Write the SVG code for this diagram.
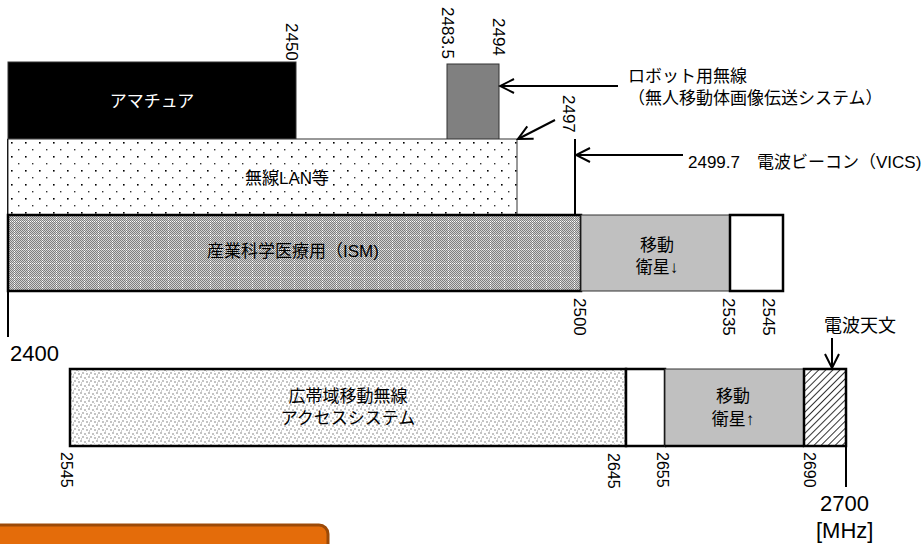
<svg xmlns="http://www.w3.org/2000/svg" width="921" height="544" viewBox="0 0 921 544">
<style>
.jp{font-family:"Liberation Sans","Noto Sans CJK JP",sans-serif;font-size:17px;fill:#000}
.c{text-anchor:middle}
.num{font-family:"Liberation Sans","Noto Sans CJK JP",sans-serif;font-size:17px;fill:#000}
.numb{font-family:"Liberation Sans","Noto Sans CJK JP",sans-serif;font-size:16px;fill:#000}
.big{font-family:"Liberation Sans","Noto Sans CJK JP",sans-serif;font-size:22px;fill:#000}
.thin{stroke:#333;stroke-width:1}
.thick{stroke:#000;stroke-width:2.5}
.conn{stroke:#000;stroke-width:2;fill:none}
</style>
<defs>
<marker id="arr" markerUnits="userSpaceOnUse" markerWidth="18" markerHeight="18" refX="16" refY="8" orient="auto">
<path d="M2,1 L16,8 L2,15" fill="none" stroke="#000" stroke-width="2"/>
</marker>
<pattern id="pDots" width="14" height="14" patternUnits="userSpaceOnUse" x="8" y="139">
<rect width="14" height="14" fill="#fff"/>
<rect x="3" y="3" width="1.6" height="1.6" fill="#000"/>
<rect x="10" y="10" width="1.4" height="1.4" fill="#333"/>
</pattern>
<pattern id="pChk" width="2" height="2" patternUnits="userSpaceOnUse">
<rect width="2" height="2" fill="#d2d2d2"/>
<rect width="1" height="1" fill="#7e7e7e"/>
<rect x="1" y="1" width="1" height="1" fill="#7e7e7e"/>
</pattern>
<pattern id="pGrid" width="14" height="14" patternUnits="userSpaceOnUse" x="8" y="215">
<path d="M6.5,0 V14 M0,6.5 H14" stroke="#fff" stroke-width="1" stroke-dasharray="1,1"/>
</pattern>
<pattern id="pBb" width="8" height="8" patternUnits="userSpaceOnUse">
<rect width="8" height="8" fill="#fff"/>
<rect x="0" y="0" width="2" height="2" fill="#c4c4c4"/>
<rect x="4" y="1" width="2" height="2" fill="#c4c4c4"/>
<rect x="2" y="4" width="2" height="2" fill="#c4c4c4"/>
<rect x="6" y="5" width="2" height="2" fill="#c4c4c4"/>
<rect x="1" y="6" width="1" height="2" fill="#d0d0d0"/>
<rect x="6" y="3" width="1" height="1" fill="#d0d0d0"/>
</pattern>
<pattern id="pHatch" width="5" height="5" patternUnits="userSpaceOnUse" patternTransform="rotate(45)">
<rect width="5" height="5" fill="#fff"/>
<line x1="0.5" y1="0" x2="0.5" y2="5" stroke="#333" stroke-width="1"/>
</pattern>
</defs>

<g id="axis-top">
<line x1="8" y1="139" x2="8" y2="337" stroke="#000" stroke-width="2"/>
<text class="big" x="10" y="361">2400</text>
</g>

<g id="amateur">
<rect x="8" y="62" width="288" height="77" fill="#000" class="thin"/>
<text class="jp c" x="152" y="107" style="fill:#fff">アマチュア</text>
<text class="num" transform="translate(286,23) rotate(90)">2450</text>
</g>

<g id="robot">
<rect x="447" y="64" width="52" height="76" fill="#808080" class="thin"/>
<text class="num" transform="translate(442,7) rotate(90)">2483.5</text>
<text class="num" transform="translate(493,18) rotate(90)">2494</text>
<text class="jp" x="628" y="82">ロボット用無線</text>
<text class="jp" x="628" y="104">（無人移動体画像伝送システム）</text>
</g>

<g id="wlan">
<rect x="8" y="139" width="509" height="76" fill="url(#pDots)" class="thin"/>
<text class="jp c" x="287" y="184">無線LAN等</text>
<text class="num" transform="translate(563,95) rotate(90)">2497</text>
</g>

<g id="vics">
<line x1="575" y1="139" x2="575" y2="215" stroke="#000" stroke-width="2"/>
<text class="num" x="688" y="168">2499.7　電波ビーコン（VICS)</text>
</g>

<g id="ism">
<rect x="8" y="215" width="573" height="76" fill="url(#pChk)"/>
<rect x="8" y="215" width="573" height="76" fill="url(#pGrid)" class="thick"/>
<text class="num c" x="293" y="257">産業科学医療用（ISM)</text>
<text class="num" transform="translate(574,298) rotate(90)">2500</text>
</g>

<g id="mss-down">
<rect x="581" y="215" width="149" height="76" fill="#c0c0c0" class="thin"/>
<text class="jp c" x="657" y="251">移動</text>
<text class="jp c" x="657" y="273">衛星↓</text>
<text class="num" transform="translate(723,298) rotate(90)">2535</text>
</g>

<g id="blank-top">
<rect x="730" y="215" width="53" height="76" fill="#fff" class="thick"/>
<text class="num" transform="translate(763,298) rotate(90)">2545</text>
</g>

<g id="bwa">
<rect x="70" y="369" width="556" height="77" fill="url(#pBb)" class="thick"/>
<text class="jp c" x="348" y="402">広帯域移動無線</text>
<text class="jp c" x="348" y="424">アクセスシステム</text>
<text class="numb" transform="translate(61,452) rotate(90)">2545</text>
<text class="numb" transform="translate(608,453) rotate(90)">2645</text>
</g>

<g id="blank-bottom">
<rect x="626" y="369" width="39" height="77" fill="#fff" class="thick"/>
<text class="numb" transform="translate(657,452) rotate(90)">2655</text>
</g>

<g id="mss-up">
<rect x="665" y="369" width="139" height="77" fill="#c0c0c0" class="thin"/>
<line x1="665" y1="446" x2="804" y2="446" stroke="#000" stroke-width="2.5"/>
<text class="jp c" x="733" y="402">移動</text>
<text class="jp c" x="733" y="425">衛星↑</text>
<text class="numb" transform="translate(804,452) rotate(90)">2690</text>
</g>

<g id="radio-astronomy">
<rect x="804" y="369" width="42" height="77" fill="url(#pHatch)" class="thick"/>
<text class="jp" x="824" y="332" style="font-size:18px">電波天文</text>
</g>

<g id="axis-bottom">
<line x1="846" y1="369" x2="846" y2="487" stroke="#000" stroke-width="2"/>
<text class="big" x="820" y="511">2700</text>
<text class="big" x="816" y="538">[MHz]</text>
</g>

<g id="connectors">
<line class="conn" x1="618" y1="86" x2="500" y2="86" marker-end="url(#arr)"/>
<line class="conn" x1="555" y1="120" x2="518" y2="139" marker-end="url(#arr)"/>
<line class="conn" x1="683" y1="155" x2="576" y2="155" marker-end="url(#arr)"/>
<line class="conn" x1="832" y1="338" x2="832" y2="368" marker-end="url(#arr)"/>
</g>

<g id="orange-box">
<rect x="-12" y="525" width="340" height="40" rx="9" fill="#e46c0a" stroke="#9c4a08" stroke-width="3"/>
</g>
</svg>
